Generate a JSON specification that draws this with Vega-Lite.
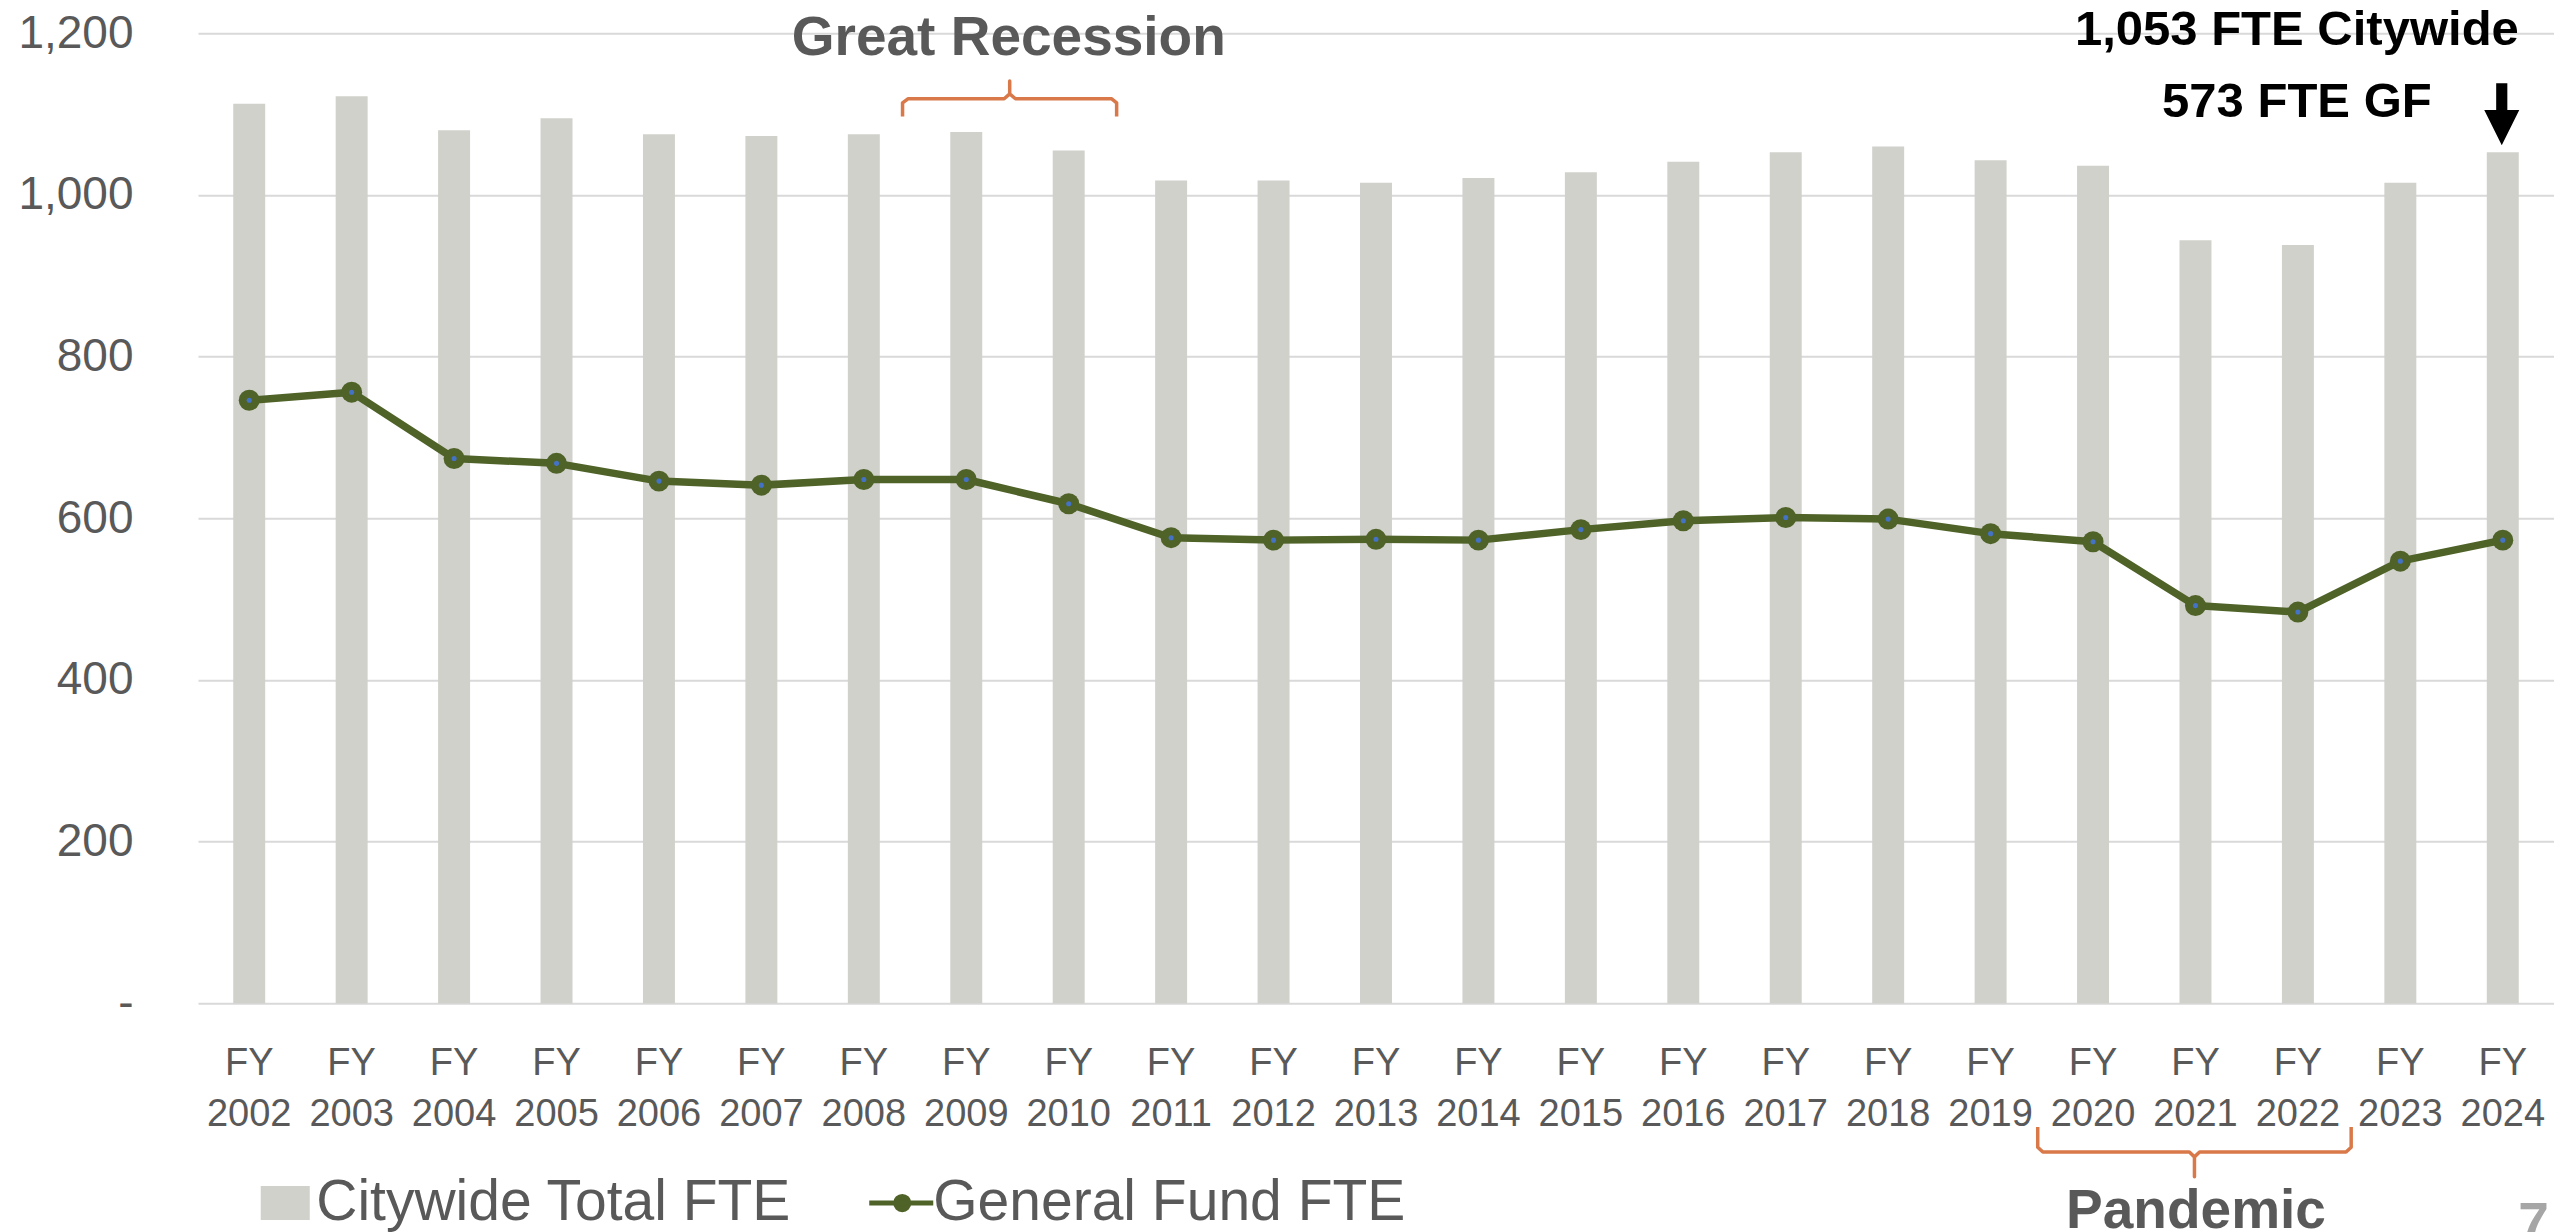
{
  "$schema": "https://vega.github.io/schema/vega-lite/v6.json",
  "width": 2356,
  "height": 970,
  "autosize": {"type": "none"},
  "padding": {"left": 198, "top": 33.3, "right": 0, "bottom": 228.7},
  "background": "white",
  "config": {
    "view": {"stroke": null},
    "font": "Liberation Sans",
    "axisY": {
      "title": null,
      "tickCount": 6,
      "labelFont": "Liberation Sans",
      "labelFontSize": 46,
      "labelColor": "#595959",
      "labelPadding": 65,
      "ticks": false,
      "tickSize": 0,
      "domain": false,
      "grid": true,
      "gridColor": "#D9D9D9",
      "gridWidth": 2
    }
  },
  "datasets": {
    "fte": [
      {"year": "2002", "series": "Citywide Total FTE", "fte": 1113},
      {"year": "2003", "series": "Citywide Total FTE", "fte": 1122},
      {"year": "2004", "series": "Citywide Total FTE", "fte": 1080},
      {"year": "2005", "series": "Citywide Total FTE", "fte": 1095},
      {"year": "2006", "series": "Citywide Total FTE", "fte": 1075},
      {"year": "2007", "series": "Citywide Total FTE", "fte": 1073},
      {"year": "2008", "series": "Citywide Total FTE", "fte": 1075},
      {"year": "2009", "series": "Citywide Total FTE", "fte": 1078},
      {"year": "2010", "series": "Citywide Total FTE", "fte": 1055},
      {"year": "2011", "series": "Citywide Total FTE", "fte": 1018},
      {"year": "2012", "series": "Citywide Total FTE", "fte": 1018},
      {"year": "2013", "series": "Citywide Total FTE", "fte": 1015},
      {"year": "2014", "series": "Citywide Total FTE", "fte": 1021},
      {"year": "2015", "series": "Citywide Total FTE", "fte": 1028},
      {"year": "2016", "series": "Citywide Total FTE", "fte": 1041},
      {"year": "2017", "series": "Citywide Total FTE", "fte": 1053},
      {"year": "2018", "series": "Citywide Total FTE", "fte": 1060},
      {"year": "2019", "series": "Citywide Total FTE", "fte": 1043},
      {"year": "2020", "series": "Citywide Total FTE", "fte": 1036},
      {"year": "2021", "series": "Citywide Total FTE", "fte": 944},
      {"year": "2022", "series": "Citywide Total FTE", "fte": 938},
      {"year": "2023", "series": "Citywide Total FTE", "fte": 1015},
      {"year": "2024", "series": "Citywide Total FTE", "fte": 1053},
      {"year": "2002", "series": "General Fund FTE", "fte": 746},
      {"year": "2003", "series": "General Fund FTE", "fte": 756},
      {"year": "2004", "series": "General Fund FTE", "fte": 674},
      {"year": "2005", "series": "General Fund FTE", "fte": 668},
      {"year": "2006", "series": "General Fund FTE", "fte": 646},
      {"year": "2007", "series": "General Fund FTE", "fte": 641},
      {"year": "2008", "series": "General Fund FTE", "fte": 648},
      {"year": "2009", "series": "General Fund FTE", "fte": 648},
      {"year": "2010", "series": "General Fund FTE", "fte": 618},
      {"year": "2011", "series": "General Fund FTE", "fte": 576},
      {"year": "2012", "series": "General Fund FTE", "fte": 573},
      {"year": "2013", "series": "General Fund FTE", "fte": 574},
      {"year": "2014", "series": "General Fund FTE", "fte": 573},
      {"year": "2015", "series": "General Fund FTE", "fte": 586},
      {"year": "2016", "series": "General Fund FTE", "fte": 597},
      {"year": "2017", "series": "General Fund FTE", "fte": 601},
      {"year": "2018", "series": "General Fund FTE", "fte": 599},
      {"year": "2019", "series": "General Fund FTE", "fte": 581},
      {"year": "2020", "series": "General Fund FTE", "fte": 571},
      {"year": "2021", "series": "General Fund FTE", "fte": 492},
      {"year": "2022", "series": "General Fund FTE", "fte": 484},
      {"year": "2023", "series": "General Fund FTE", "fte": 547},
      {"year": "2024", "series": "General Fund FTE", "fte": 573}
    ],
    "brackets": [
      {"g": "recession", "o": 1, "bx": 6.878, "by": 1097},
      {"g": "recession", "o": 2, "bx": 6.878, "by": 1114},
      {"g": "recession", "o": 3, "bx": 6.93, "by": 1119},
      {"g": "recession", "o": 4, "bx": 7.87, "by": 1119},
      {"g": "recession", "o": 5, "bx": 7.924, "by": 1125},
      {"g": "recession", "o": 6, "bx": 7.924, "by": 1141},
      {"g": "recession", "o": 7, "bx": 7.924, "by": 1125},
      {"g": "recession", "o": 8, "bx": 7.98, "by": 1119},
      {"g": "recession", "o": 9, "bx": 8.92, "by": 1119},
      {"g": "recession", "o": 10, "bx": 8.968, "by": 1114},
      {"g": "recession", "o": 11, "bx": 8.968, "by": 1097},
      {"g": "pandemic", "o": 1, "bx": 17.96, "by": -153},
      {"g": "pandemic", "o": 2, "bx": 17.96, "by": -178},
      {"g": "pandemic", "o": 3, "bx": 18.01, "by": -184},
      {"g": "pandemic", "o": 4, "bx": 19.44, "by": -184},
      {"g": "pandemic", "o": 5, "bx": 19.49, "by": -190},
      {"g": "pandemic", "o": 6, "bx": 19.49, "by": -214.5},
      {"g": "pandemic", "o": 7, "bx": 19.49, "by": -190},
      {"g": "pandemic", "o": 8, "bx": 19.54, "by": -184},
      {"g": "pandemic", "o": 9, "bx": 20.97, "by": -184},
      {"g": "pandemic", "o": 10, "bx": 21.02, "by": -178},
      {"g": "pandemic", "o": 11, "bx": 21.02, "by": -153}
    ],
    "notes": [
      {"kind": "period", "label": "Great Recession", "nx": 7.915, "ny": 1173},
      {"kind": "period", "label": "Pandemic", "nx": 19.505, "ny": -278},
      {"kind": "callout", "label": "1,053 FTE Citywide", "nx": 20.49, "ny": 1185.5},
      {"kind": "callout", "label": "573 FTE GF", "nx": 20.49, "ny": 1096.4},
      {"kind": "page", "label": "7", "nx": 22.65, "ny": -294},
      {"kind": "arrow", "label": "", "nx": 22.49, "ny": 1100}
    ]
  },
  "layer": [
    {
      "data": {"name": "fte"},
      "encoding": {
        "x": {
          "field": "year",
          "type": "ordinal",
          "scale": {"paddingInner": 0.688, "paddingOuter": 0.344},
          "axis": {
            "title": null,
            "labelExpr": "['FY', datum.value]",
            "labelAngle": 0,
            "labelFont": "Liberation Sans",
            "labelFontSize": 38,
            "labelLineHeight": 51,
            "labelColor": "#595959",
            "labelBaseline": "top",
            "labelPadding": 41,
            "ticks": false,
            "tickSize": 0,
            "domain": false,
            "grid": false
          }
        }
      },
      "layer": [
        {
          "transform": [{"filter": "datum.series === 'Citywide Total FTE'"}],
          "mark": {"type": "bar"},
          "encoding": {
            "y": {"field": "fte", "type": "quantitative", "scale": {"domain": [0, 1200], "nice": false}, "axis": {"title": null, "labelExpr": "datum.value == 0 ? '-' : format(datum.value, ',')"}},
            "color": {
              "field": "series",
              "type": "nominal",
              "scale": {
                "domain": ["Citywide Total FTE", "General Fund FTE"],
                "range": ["#D0D1CB", "#4F6228"]
              },
              "legend": {
                "title": null,
                "orient": "none",
                "legendX": 58.75,
                "legendY": 1141,
                "direction": "horizontal",
                "padding": 0,
                "labelFont": "Liberation Sans",
                "labelFontSize": 57,
                "labelColor": "#595959",
                "labelOffset": 2.5,
                "labelLimit": 0,
                "symbolSize": 1600,
                "symbolStrokeWidth": 5,
                "symbolOpacity": 1,
                "columnPadding": 67
              }
            }
          }
        },
        {
          "transform": [{"filter": "datum.series === 'General Fund FTE'"}],
          "mark": {"type": "line", "strokeWidth": 7.5, "strokeJoin": "round"},
          "encoding": {
            "y": {"field": "fte", "type": "quantitative", "scale": {"domain": [0, 1200], "nice": false}, "axis": {"title": null, "labelExpr": "datum.value == 0 ? '-' : format(datum.value, ',')"}},
            "color": {"field": "series", "type": "nominal"}
          }
        },
        {
          "transform": [{"filter": "datum.series === 'General Fund FTE'"}],
          "mark": {"type": "point", "filled": true, "opacity": 1, "size": 440, "shape": "circle"},
          "encoding": {
            "y": {"field": "fte", "type": "quantitative", "scale": {"domain": [0, 1200], "nice": false}, "axis": {"title": null, "labelExpr": "datum.value == 0 ? '-' : format(datum.value, ',')"}},
            "color": {"field": "series", "type": "nominal"}
          }
        },
        {
          "transform": [{"filter": "datum.series === 'General Fund FTE'"}],
          "mark": {"type": "point", "filled": true, "opacity": 1, "size": 26, "shape": "circle", "color": "#4472C4"},
          "encoding": {
            "y": {"field": "fte", "type": "quantitative", "scale": {"domain": [0, 1200], "nice": false}, "axis": {"title": null, "labelExpr": "datum.value == 0 ? '-' : format(datum.value, ',')"}}
          }
        },
        {
          "mark": {"type": "point", "filled": true, "opacity": 0, "size": 1},
          "encoding": {
            "y": {"field": "fte", "type": "quantitative", "scale": {"domain": [0, 1200], "nice": false}, "axis": {"title": null, "labelExpr": "datum.value == 0 ? '-' : format(datum.value, ',')"}},
            "color": {"field": "series", "type": "nominal"},
            "shape": {
              "field": "series",
              "type": "nominal",
              "scale": {
                "domain": ["Citywide Total FTE", "General Fund FTE"],
                "range": ["M-1.1,-0.725H1.1V0.725H-1.1Z", "M-1.65,0H1.55M0.33,0A0.33,0.33 0 1,1 -0.33,0A0.33,0.33 0 1,1 0.33,0Z"]
              },
              "legend": {
                "title": null,
                "orient": "none",
                "legendX": 58.75,
                "legendY": 1141,
                "direction": "horizontal",
                "padding": 0,
                "labelFont": "Liberation Sans",
                "labelFontSize": 57,
                "labelColor": "#595959",
                "labelOffset": 2.5,
                "labelLimit": 0,
                "symbolSize": 1600,
                "symbolStrokeWidth": 5,
                "symbolOpacity": 1,
                "columnPadding": 67
              }
            }
          }
        }
      ]
    },
    {
      "data": {"name": "brackets"},
      "mark": {"type": "line", "color": "#D9794A", "strokeWidth": 3.5, "strokeJoin": "round", "strokeCap": "butt", "clip": false},
      "encoding": {
        "x": {"field": "bx", "type": "quantitative", "scale": {"domain": [0, 23], "nice": false, "zero": false}, "axis": null},
        "y": {"field": "by", "type": "quantitative", "scale": {"domain": [0, 1200], "nice": false}, "axis": {"title": null, "labelExpr": "datum.value == 0 ? '-' : format(datum.value, ',')"}},
        "detail": {"field": "g"},
        "order": {"field": "o", "type": "quantitative"}
      }
    },
    {
      "data": {"name": "notes"},
      "transform": [{"filter": "datum.kind === 'period'"}],
      "mark": {"type": "text", "font": "Liberation Sans", "fontWeight": "bold", "fontSize": 55, "color": "#595959", "align": "center", "baseline": "alphabetic", "clip": false},
      "encoding": {
        "x": {"field": "nx", "type": "quantitative", "scale": {"domain": [0, 23], "nice": false, "zero": false}, "axis": null},
        "y": {"field": "ny", "type": "quantitative", "scale": {"domain": [0, 1200], "nice": false}, "axis": {"title": null, "labelExpr": "datum.value == 0 ? '-' : format(datum.value, ',')"}},
        "text": {"field": "label"}
      }
    },
    {
      "data": {"name": "notes"},
      "transform": [{"filter": "datum.kind === 'callout'"}],
      "mark": {"type": "text", "font": "Liberation Sans", "fontWeight": "bold", "fontSize": 49, "color": "#000000", "align": "center", "baseline": "alphabetic", "clip": false},
      "encoding": {
        "x": {"field": "nx", "type": "quantitative", "scale": {"domain": [0, 23], "nice": false, "zero": false}, "axis": null},
        "y": {"field": "ny", "type": "quantitative", "scale": {"domain": [0, 1200], "nice": false}, "axis": {"title": null, "labelExpr": "datum.value == 0 ? '-' : format(datum.value, ',')"}},
        "text": {"field": "label"}
      }
    },
    {
      "data": {"name": "notes"},
      "transform": [{"filter": "datum.kind === 'page'"}],
      "mark": {"type": "text", "font": "Liberation Sans", "fontWeight": "bold", "fontSize": 55, "color": "#A6A6A6", "align": "left", "baseline": "alphabetic", "clip": false},
      "encoding": {
        "x": {"field": "nx", "type": "quantitative", "scale": {"domain": [0, 23], "nice": false, "zero": false}, "axis": null},
        "y": {"field": "ny", "type": "quantitative", "scale": {"domain": [0, 1200], "nice": false}, "axis": {"title": null, "labelExpr": "datum.value == 0 ? '-' : format(datum.value, ',')"}},
        "text": {"field": "label"}
      }
    },
    {
      "data": {"name": "notes"},
      "transform": [{"filter": "datum.kind === 'arrow'"}],
      "mark": {"type": "point", "filled": true, "opacity": 1, "color": "#000000", "size": 3844, "shape": "M-0.18,-1H0.18V-0.13H0.565L0,1L-0.565,-0.13H-0.18Z", "clip": false},
      "encoding": {
        "x": {"field": "nx", "type": "quantitative", "scale": {"domain": [0, 23], "nice": false, "zero": false}, "axis": null},
        "y": {"field": "ny", "type": "quantitative", "scale": {"domain": [0, 1200], "nice": false}, "axis": {"title": null, "labelExpr": "datum.value == 0 ? '-' : format(datum.value, ',')"}}
      }
    }
  ],
  "resolve": {"scale": {"x": "independent"}}
}
